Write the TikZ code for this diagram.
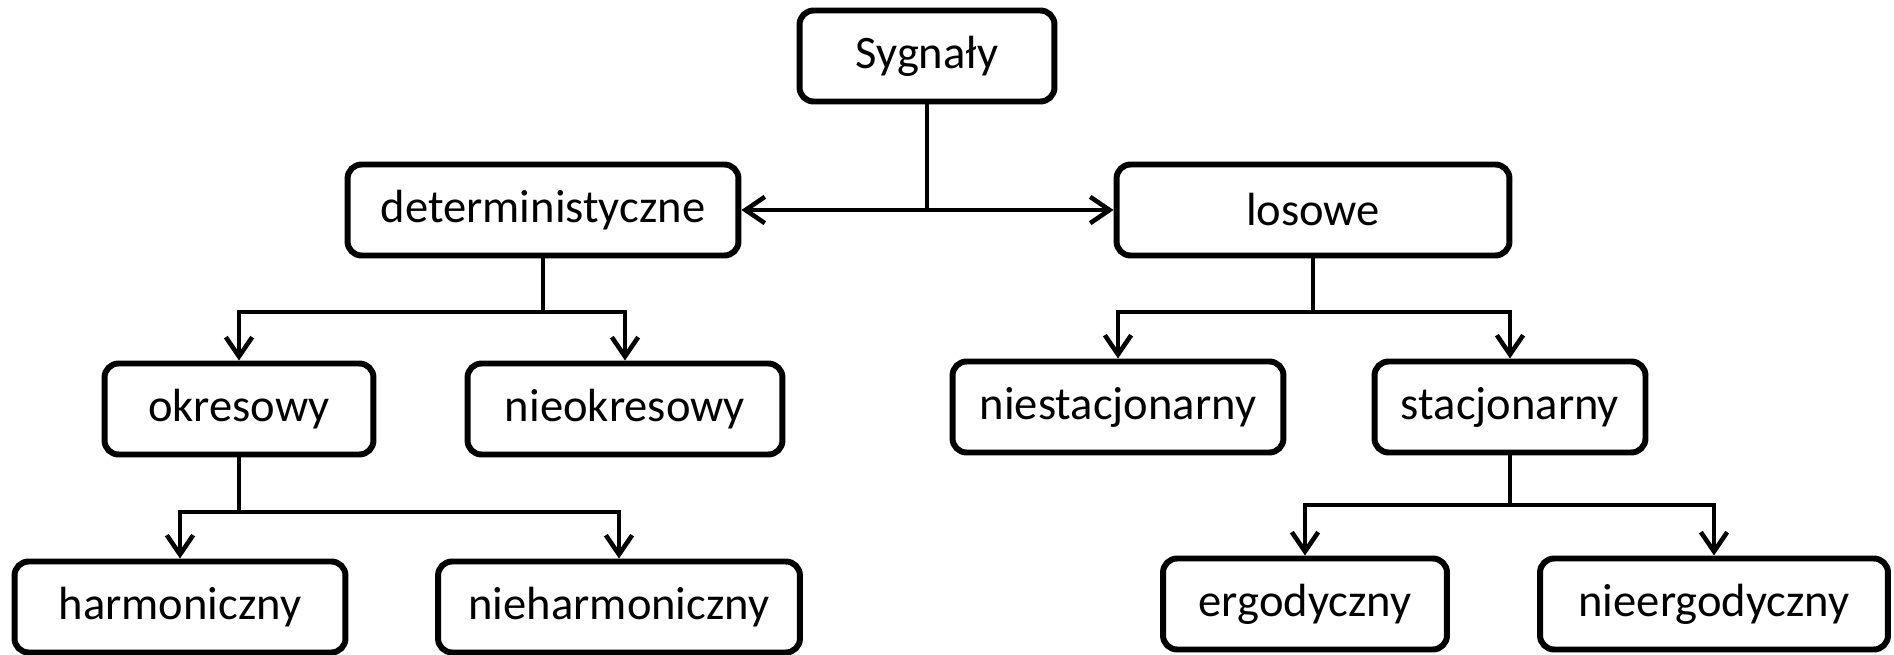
\documentclass[tikz,border=0pt]{standalone}
\usepackage{fontspec}
\setmainfont{Carlito}
\usetikzlibrary{calc, positioning}
\usetikzlibrary{arrows.meta}

\begin{document}
\begin{tikzpicture}[x=0.02cm, y=-0.02cm,
  box/.style={draw, line width=3.4pt, rounded corners=8pt, inner sep=0pt,
    minimum height=#1, font=\fontsize{26.5}{30}\selectfont},
  box/.default={1.82cm},
  link/.style={line width=2.6pt},
  branch/.style={link, -{Straight Barb[length=11pt, width=15pt, line width=2.6pt]}}]
\useasboundingbox (0,0) rectangle (1894,655);
% nodes
\node[box, minimum width=5.1cm] (syg) at (927,56) {Sygnały};
\node[box, minimum width=7.82cm] (det) at (543,210) {deterministyczne};
\node[box, minimum width=7.86cm] (los) at (1313,210) {losowe};
\node[box, minimum width=5.38cm] (okr) at (239,409) {okresowy};
\node[box, minimum width=6.3cm] (nokr) at (625,409) {nieokresowy};
\node[box, minimum width=6.62cm] (nstac) at (1118,407) {niestacjonarny};
\node[box, minimum width=5.42cm] (stac) at (1510,407) {stacjonarny};
\node[box, minimum width=6.62cm] (harm) at (180,607) {harmoniczny};
\node[box, minimum width=7.24cm] (nharm) at (619,607) {nieharmoniczny};
\node[box, minimum width=5.68cm] (erg) at (1305,604) {ergodyczny};
\node[box, minimum width=6.96cm] (nerg) at (1714,604) {nieergodyczny};
% junctions
\coordinate (dj) at (543,312);
\coordinate (lj) at (1313,312);
\coordinate (oj) at (239,512);
\coordinate (sj) at (1510,505);
% connectors
\draw[link] (syg.south) -- (syg.south |- det.east);
\draw[link, {Straight Barb[length=11pt, width=15pt, line width=2.6pt]}-{Straight Barb[length=11pt, width=15pt, line width=2.6pt]}] (det.east) -- (los.west);
\draw[link] (det.south) -- (dj);
\draw[branch] (dj) -| (okr.north);
\draw[branch] (dj) -| (nokr.north);
\draw[link] (los.south) -- (lj);
\draw[branch] (lj) -| (nstac.north);
\draw[branch] (lj) -| (stac.north);
\draw[link] (okr.south) -- (oj);
\draw[branch] (oj) -| (harm.north);
\draw[branch] (oj) -| (nharm.north);
\draw[link] (stac.south) -- (sj);
\draw[branch] (sj) -| (erg.north);
\draw[branch] (sj) -| (nerg.north);
\end{tikzpicture}
\end{document}
